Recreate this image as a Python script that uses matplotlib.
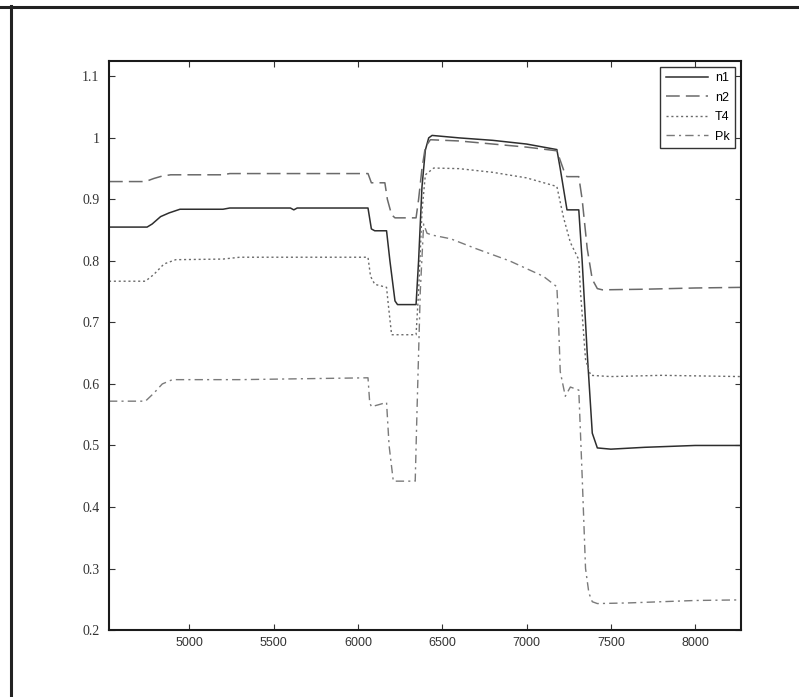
"""Curvas n1, n2, T4 y Pk frente al tiempo (réplica de figura escaneada)."""

import matplotlib
matplotlib.use("Agg")
import matplotlib.pyplot as plt
from matplotlib.lines import Line2D
from matplotlib.ticker import FormatStrFormatter, MultipleLocator

# --- datos ---
n1_x = [4524, 4750, 4780, 4830, 4880, 4945, 5200, 5240, 5600, 5620, 5640, 6060,
        6080, 6100, 6170, 6190, 6220, 6235, 6345, 6360, 6380, 6400, 6420, 6440,
        6600, 6800, 7000, 7180, 7200, 7240, 7310, 7330, 7360, 7390, 7420, 7500,
        7700, 8000, 8270]
n1_y = [0.855, 0.855, 0.860, 0.872, 0.878, 0.884, 0.884, 0.886, 0.886, 0.883,
        0.886, 0.886, 0.852, 0.849, 0.849, 0.800, 0.735, 0.729, 0.729, 0.800,
        0.920, 0.980, 1.000, 1.004, 1.000, 0.996, 0.990, 0.981, 0.950, 0.883,
        0.883, 0.800, 0.650, 0.520, 0.496, 0.494, 0.497, 0.500, 0.500]

n2_x = [4524, 4740, 4790, 4840, 4890, 5200, 5240, 6060, 6080, 6160, 6175, 6200,
        6220, 6345, 6360, 6380, 6400, 6430, 6600, 6800, 7000, 7180, 7230, 7240,
        7310, 7330, 7360, 7390, 7420, 7450, 7700, 8000, 8270]
n2_y = [0.929, 0.929, 0.934, 0.938, 0.940, 0.940, 0.942, 0.942, 0.927, 0.927,
        0.900, 0.875, 0.870, 0.870, 0.900, 0.950, 0.985, 0.997, 0.995, 0.990,
        0.985, 0.979, 0.940, 0.937, 0.937, 0.900, 0.820, 0.770, 0.755, 0.753,
        0.754, 0.756, 0.757]

t4_x = [4524, 4740, 4790, 4850, 4920, 5200, 5300, 6060, 6075, 6100, 6170, 6180,
        6200, 6345, 6360, 6380, 6400, 6450, 6600, 6800, 7000, 7180, 7220, 7260,
        7310, 7320, 7350, 7380, 7500, 7800, 8270]
t4_y = [0.767, 0.767, 0.778, 0.795, 0.802, 0.803, 0.806, 0.806, 0.775, 0.762,
        0.757, 0.730, 0.680, 0.680, 0.750, 0.880, 0.940, 0.951, 0.950, 0.944,
        0.935, 0.921, 0.870, 0.830, 0.802, 0.750, 0.640, 0.614, 0.612, 0.614,
        0.612]

pk_x = [4524, 4740, 4790, 4840, 4900, 5300, 6060, 6070, 6080, 6120, 6170, 6185,
        6210, 6340, 6350, 6370, 6390, 6410, 6440, 6550, 6700, 6900, 7100, 7180,
        7190, 7200, 7230, 7260, 7310, 7330, 7350, 7370, 7390, 7420, 7600, 7800,
        8000, 8270]
pk_y = [0.572, 0.572, 0.585, 0.600, 0.607, 0.607, 0.610, 0.570, 0.563, 0.566,
        0.570, 0.500, 0.442, 0.442, 0.550, 0.750, 0.860, 0.845, 0.842, 0.836,
        0.820, 0.800, 0.775, 0.758, 0.700, 0.620, 0.580, 0.595, 0.590, 0.450,
        0.300, 0.260, 0.246, 0.243, 0.244, 0.246, 0.248, 0.249]

labels = ["n1", "n2", "T4", "Pk"]
x_ticks = [5000, 5500, 6000, 6500, 7000, 7500, 8000]

fig = plt.figure(figsize=(7.99, 6.97), dpi=100)
ax = fig.add_axes([0.1364, 0.0961, 0.7906, 0.8164])

ax.plot(n1_x, n1_y, color="#2e2e2e", lw=1.1, ls="-", label=labels[0])
ax.plot(n2_x, n2_y, color="#6a6a6a", lw=1.1, ls=(0, (9, 4)), label=labels[1])
ax.plot(t4_x, t4_y, color="#6a6a6a", lw=1.0, ls=(0, (1.5, 2)), label=labels[2])
ax.plot(pk_x, pk_y, color="#7a7a7a", lw=1.0, ls=(0, (6, 3, 1.5, 3)), label=labels[3])

ax.set_xlim(4524, 8270)
ax.set_ylim(0.2, 1.125)
ax.set_xticks(x_ticks)
ax.yaxis.set_major_locator(MultipleLocator(0.1))
ax.yaxis.set_major_formatter(FormatStrFormatter("%g"))
ax.tick_params(direction="in", length=4, width=0.8, top=True, right=True,
               colors="#333333")
ax.tick_params(axis="y", pad=7)
ax.tick_params(axis="x", pad=5)
for lab in ax.get_yticklabels():
    lab.set_fontfamily("Liberation Serif")
    lab.set_fontsize(10)
for lab in ax.get_xticklabels():
    lab.set_fontfamily("Liberation Sans")
    lab.set_fontsize(9)
for sp in ax.spines.values():
    sp.set_linewidth(1.5)
    sp.set_color("#1a1a1a")

leg = ax.legend(loc="upper right", prop={"family": "Liberation Sans", "size": 9},
                fancybox=False, framealpha=1, edgecolor="#333333",
                handlelength=3.4, borderpad=0.45, labelspacing=0.6,
                handletextpad=0.5, borderaxespad=0.45)
leg.get_frame().set_linewidth(1.0)

# marco exterior (solo arriba e izquierda, como en el escaneo)
fig.add_artist(Line2D([0.0, 1.0], [1 - 6.5 / 697, 1 - 6.5 / 697], color="#222222", lw=2.2))
fig.add_artist(Line2D([10.5 / 799, 10.5 / 799], [0.0, 1 - 5.5 / 697], color="#222222", lw=2.2))

fig.savefig("out.png", dpi=100)
